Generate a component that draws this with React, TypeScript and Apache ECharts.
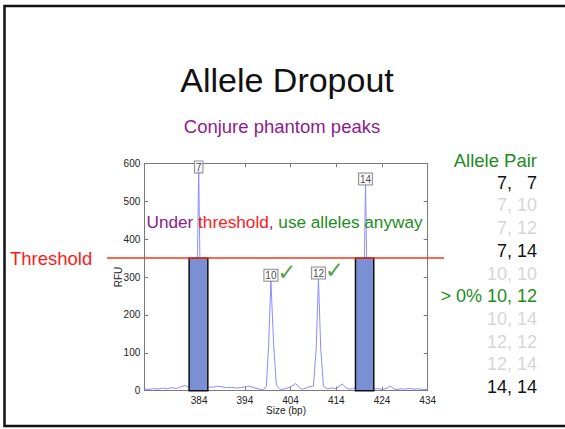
import React, { useEffect, useRef } from 'react';
import * as echarts from 'echarts';

// Electropherogram trace (size in bp, RFU)
const traceSize = [
  372, 373, 374, 375, 376, 377, 378, 379, 380, 380.9, 381.6, 382.2, 383.0, 383.5, 383.9, 384.3, 384.8, 385.4,
  386, 387, 388, 389, 390, 391, 392, 393, 394, 395, 396, 397, 398.0, 398.7, 399.2, 399.7, 400.3, 400.9,
  401.6, 402, 403, 404, 405.1, 405.9, 406.6, 407.2, 408, 409, 409.6, 410.1, 410.6, 411.2, 412, 413, 414,
  415.3, 416.1, 416.9, 417.6, 418.2, 419.2, 419.9, 420.4, 420.9, 421.6, 422.5, 423, 424, 425, 425.8, 426.6,
  427.3, 428, 429, 430, 431, 432, 433, 434,
];
const traceRfu = [
  5, 3, 6, 4, 7, 5, 8, 6, 10, 14, 9, 12, 30, 220, 590, 220, 30, 12,
  10, 9, 12, 10, 8, 9, 7, 8, 10, 12, 8, 5, 2, 12, 120, 290, 120, 15,
  5, 3, 6, 10, 19, 8, 4, 6, 10, 12, 110, 296, 110, 12, 5, 7, 6,
  18, 8, 4, 6, 8, 10, 150, 545, 150, 10, 4, 6, 3, 6, 12, 5,
  3, 5, 4, 6, 4, 5, 3, 4,
];

const xTicks = [384, 394, 404, 414, 424, 434];
const thresholdRfu = 350;

// Dropout boxes (start bp, end bp, height RFU)
const boxStart = [381.8, 418.2];
const boxEnd = [385.9, 422.2];
const boxHeight = [350, 350];

// Allele calls
const peakLabels = ['7', '10', '12', '14'];
const peakSizes = [383.9, 399.7, 410.1, 420.4];
const peakLabelRfu = [576, 290, 296, 544];
const checkedAlleles = ['10', '12'];

// Allele-pair list
const pairLabels = ['7,   7', '7, 10', '7, 12', '7, 14', '10, 10', '10, 12', '10, 14', '12, 12', '12, 14', '14, 14'];
const pairStatus = ['kept', 'out', 'out', 'kept', 'out', 'chosen', 'out', 'out', 'out', 'kept'];

const FONT = '"Liberation Sans", Arial, Helvetica, sans-serif';
const PURPLE = '#8e1a8e';
const GREEN = '#1c8c1c';
const RED = '#ff1a1a';

export default function App() {
  const ref = useRef<HTMLDivElement>(null);

  useEffect(() => {
    if (!ref.current) return;
    const chart = echarts.init(ref.current, null, { renderer: 'svg' });

    const traceData = traceSize.map((s, i) => [s, traceRfu[i]]);
    const boxData = boxStart.map((s, i) => [s, boxEnd[i], boxHeight[i]]);
    const labelData = peakSizes.map((s, i) => ({ value: [s, peakLabelRfu[i]], name: peakLabels[i] }));
    const checkData = peakLabels
      .map((l, i) => ({ l, i }))
      .filter((d) => checkedAlleles.includes(d.l))
      .map((d) => ({ value: [peakSizes[d.i], peakLabelRfu[d.i]], name: d.l }));

    const axisColor = '#7a7a7a';
    const tickLabel = { fontFamily: FONT, fontSize: 10, color: '#222' };

    chart.setOption({
      animation: false,
      textStyle: { fontFamily: FONT },
      grid: { left: 144.3, top: 163.3, right: 137.3, bottom: 38.3, containLabel: false },
      xAxis: [
        {
          type: 'value', min: 372, max: 434,
          position: 'bottom',
          axisLine: { show: true, lineStyle: { color: axisColor, width: 1 } },
          axisTick: { show: true, inside: true, length: 4, customValues: xTicks, lineStyle: { color: axisColor } },
          axisLabel: { show: true, customValues: xTicks, margin: 5, ...tickLabel },
          splitLine: { show: false },
          name: 'Size (bp)', nameLocation: 'middle', nameGap: 14.5, nameMoveOverlap: false,
          nameTextStyle: { fontFamily: FONT, fontSize: 10, color: '#222' },
        },
        {
          type: 'value', min: 372, max: 434,
          position: 'top',
          axisLine: { show: true, onZero: false, lineStyle: { color: axisColor, width: 1 } },
          axisTick: { show: true, inside: true, length: 4, customValues: xTicks, lineStyle: { color: axisColor } },
          axisLabel: { show: false },
          splitLine: { show: false },
        },
      ],
      yAxis: [
        {
          type: 'value', min: 0, max: 600, interval: 100,
          position: 'left',
          axisLine: { show: true, lineStyle: { color: axisColor, width: 1 } },
          axisTick: { show: true, inside: true, length: 4, lineStyle: { color: axisColor } },
          axisLabel: { show: true, margin: 4, ...tickLabel },
          splitLine: { show: false },
          name: 'RFU', nameLocation: 'middle', nameGap: 21, nameRotate: 90, nameMoveOverlap: false,
          nameTextStyle: { fontFamily: FONT, fontSize: 10, color: '#222' },
        },
        {
          type: 'value', min: 0, max: 600, interval: 100,
          position: 'right',
          axisLine: { show: true, onZero: false, lineStyle: { color: axisColor, width: 1 } },
          axisTick: { show: true, inside: true, length: 4, lineStyle: { color: axisColor } },
          axisLabel: { show: false },
          splitLine: { show: false },
        },
      ],
      series: [
        {
          type: 'line',
          name: 'trace',
          data: traceData,
          xAxisIndex: 0, yAxisIndex: 0,
          showSymbol: false,
          symbol: 'none',
          lineStyle: { color: '#8c8cff', width: 1 },
          z: 2,
        },
        {
          type: 'custom',
          name: 'dropout',
          data: boxData,
          xAxisIndex: 0, yAxisIndex: 0,
          encode: { x: [0, 1], y: 2 },
          renderItem: (params: any, api: any) => {
            const p0 = api.coord([api.value(0), api.value(2)]);
            const p1 = api.coord([api.value(1), 0]);
            return {
              type: 'rect',
              shape: { x: p0[0], y: p0[1], width: p1[0] - p0[0], height: p1[1] - p0[1] },
              style: { fill: '#7b8fd4', stroke: '#111', lineWidth: 1.5 },
            };
          },
          z: 3,
        },
        {
          type: 'scatter',
          name: 'alleles',
          data: labelData,
          xAxisIndex: 0, yAxisIndex: 0,
          symbolSize: 0,
          label: {
            show: true,
            position: 'top',
            distance: 0,
            formatter: (p: any) => p.name,
            fontFamily: FONT,
            fontSize: 10,
            lineHeight: 10,
            color: '#111',
            backgroundColor: '#fff',
            borderColor: '#777',
            borderWidth: 1,
            padding: [1, 1, 0, 1],
          },
          z: 4,
        },
        {
          type: 'scatter',
          name: 'checks',
          data: checkData,
          xAxisIndex: 0, yAxisIndex: 0,
          symbolSize: 0,
          label: {
            show: true,
            position: 'top',
            distance: 0,
            offset: [16, 3],
            formatter: () => '\u2713',
            fontFamily: '"DejaVu Sans", sans-serif',
            fontSize: 23,
            color: GREEN,
          },
          z: 4,
        },
      ],
    });

    const thrY = chart.convertToPixel({ xAxisIndex: 0, yAxisIndex: 0 }, [372, thresholdRfu])[1];

    const listRight = 537;
    const listTop = 160;
    const rowH = 22.7;
    const colorFor = (s: string) => (s === 'kept' ? '#111' : s === 'chosen' ? GREEN : '#d6d6d6');

    const graphics: any[] = [
      {
        type: 'rect',
        shape: { x: 4.5, y: 6, width: 640, height: 420 },
        style: { fill: 'none', stroke: '#111', lineWidth: 2.5 },
        silent: true,
      },
      {
        type: 'text', x: 287, y: 80,
        style: { text: 'Allele Dropout', font: `34px ${FONT}`, fill: '#111', align: 'center', verticalAlign: 'middle' },
      },
      {
        type: 'text', x: 282, y: 126,
        style: { text: 'Conjure phantom peaks', font: `18.5px ${FONT}`, fill: PURPLE, align: 'center', verticalAlign: 'middle' },
      },
      {
        type: 'text', x: 146.5, y: 222, z: 10,
        style: {
          text: '{p|Under }{r|threshold}{p|, }{g|use alleles anyway}',
          verticalAlign: 'middle',
          rich: {
            p: { font: `17.2px ${FONT}`, fill: PURPLE },
            r: { font: `17.2px ${FONT}`, fill: RED },
            g: { font: `17.2px ${FONT}`, fill: GREEN },
          },
        },
      },
      {
        type: 'line', z: 10,
        shape: { x1: 107, y1: thrY, x2: 444, y2: thrY },
        style: { stroke: '#ff3311', lineWidth: 1.5 },
      },
      {
        type: 'text', x: 10, y: thrY,
        style: { text: 'Threshold', font: `18.5px ${FONT}`, fill: RED, verticalAlign: 'middle' },
      },
      {
        type: 'text', x: listRight, y: listTop,
        style: { text: 'Allele Pair', font: `18.5px ${FONT}`, fill: GREEN, align: 'right', verticalAlign: 'middle' },
      },
      ...pairLabels.map((t, i) => ({
        type: 'text', x: listRight, y: listTop + rowH * (i + 1),
        style: {
          text: pairStatus[i] === 'chosen' ? `> 0% ${t}` : t,
          font: `18px ${FONT}`,
          fill: colorFor(pairStatus[i]),
          align: 'right',
          verticalAlign: 'middle',
        },
      })),
    ];

    chart.setOption({ graphic: graphics });

    return () => chart.dispose();
  }, []);

  return (
    <div
      ref={ref}
      style={{ position: 'fixed', left: 0, top: 0, width: 565, height: 429, background: '#fff' }}
    />
  );
}
